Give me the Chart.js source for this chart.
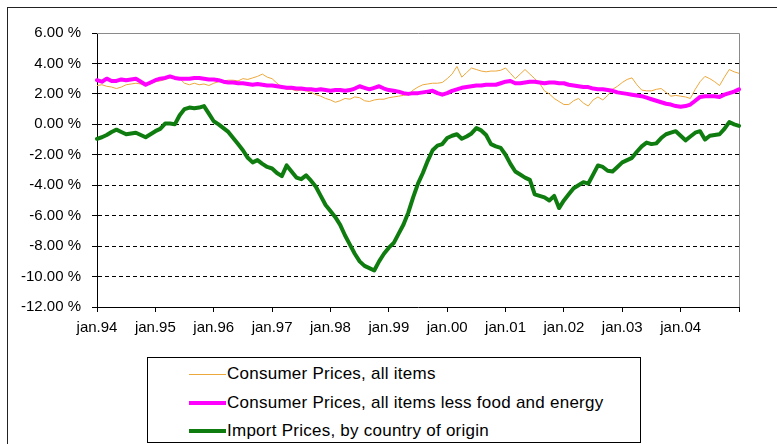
<!DOCTYPE html>
<html>
<head>
<meta charset="utf-8">
<script src="https://cdn.jsdelivr.net/npm/chart.js@4.4.1/dist/chart.umd.min.js"></script>
<style>
  html, body { margin: 0; padding: 0; background: #fff; overflow: hidden; }
  body { width: 777px; height: 444px; position: relative; font-family: "Liberation Sans", Arial, sans-serif; }
  #frame { position: absolute; left: 7px; top: 7px; width: 800px; height: 500px; border: 1px solid #222; }
  #chart { position: absolute; left: 0; top: 0; }
  #legend { position: absolute; left: 147px; top: 357px; width: 492px; height: 84px; border: 1px solid #000; background: #fff; }
  #legend .row { position: absolute; left: 0; height: 20px; margin-top: -10px; }
  #legend .swatch { position: absolute; left: 41px; width: 37px; top: 50%; }
  #legend .txt { position: absolute; left: 79px; top: 0; line-height: 20px; font-size: 17px; letter-spacing: 0.25px; white-space: nowrap; color: #000; }
</style>
</head>
<body>
<div id="frame"></div>
<canvas id="chart" width="777" height="444"></canvas>
<div id="legend"></div>
<script>
// month categories jan.94 .. jan.05
const monthNames = ['jan', 'feb', 'mar', 'apr', 'mai', 'jun', 'jul', 'aug', 'sep', 'okt', 'nov', 'des'];
const years = ['94', '95', '96', '97', '98', '99', '00', '01', '02', '03', '04', '05'];
const months = [];
years.forEach(y => monthNames.forEach(m => { if (months.length < 133) months.push(m + '.' + y); }));

const yearTicks = ['jan.94', 'jan.95', 'jan.96', 'jan.97', 'jan.98', 'jan.99', 'jan.00', 'jan.01', 'jan.02', 'jan.03', 'jan.04'];

// yearly change, %
const cpiAll = [
  2.55, 2.6, 2.5, 2.45, 2.35, 2.45, 2.6, 2.65, 2.7, 2.65, 2.6, 2.65,
  2.8, 2.85, 2.95, 3.05, 3.1, 3.0, 2.7, 2.6, 2.7, 2.6, 2.65, 2.55,
  2.7, 2.8, 2.85, 2.9, 2.9, 2.85, 3.0, 2.95, 3.05, 3.15, 3.3, 3.1,
  3.0, 2.7, 2.45, 2.3, 2.3, 2.2, 2.25, 2.2, 2.1, 1.95, 1.85, 1.7,
  1.6, 1.45, 1.55, 1.7, 1.65, 1.8, 1.75, 1.55, 1.5, 1.6, 1.65, 1.65,
  1.75, 1.8, 1.85, 1.9, 1.95, 2.25, 2.45, 2.6, 2.65, 2.7, 2.7, 2.75,
  3.0, 3.3, 3.8, 3.1, 3.4, 3.7, 3.6, 3.5, 3.45, 3.5, 3.5, 3.55,
  3.7, 3.35, 3.0, 3.3, 3.6, 3.3, 3.0, 2.7, 2.2, 2.0, 1.7, 1.5,
  1.3, 1.3, 1.55, 1.7, 1.4, 1.2, 1.6, 1.8, 1.6, 1.9, 2.3, 2.5,
  2.75, 2.95, 3.05, 2.6, 2.25, 2.2, 2.2, 2.3, 2.35, 2.1, 1.85, 1.9,
  1.85, 1.8, 1.7, 2.3, 2.8, 3.15, 3.0, 2.8, 2.55, 3.1, 3.6, 3.45,
  3.35
];
const cpiCore = [
  2.9, 2.8, 3.0, 2.85, 2.85, 2.95, 2.9, 2.95, 3.0, 2.8, 2.6, 2.75,
  2.9, 3.0, 3.05, 3.15, 3.05, 3.0, 3.0, 3.0, 3.05, 3.05, 3.0, 2.95,
  2.95, 2.9, 2.8, 2.75, 2.75, 2.7, 2.7, 2.65, 2.6, 2.65, 2.6, 2.55,
  2.55, 2.5, 2.45, 2.4, 2.4, 2.35, 2.35, 2.3, 2.3, 2.25, 2.3, 2.25,
  2.2, 2.25, 2.25, 2.2, 2.25, 2.35, 2.5, 2.4, 2.3, 2.4, 2.5, 2.35,
  2.25, 2.2, 2.15, 2.05, 2.0, 2.05, 2.05, 2.1, 2.15, 2.2, 2.05, 1.95,
  2.05, 2.2, 2.3, 2.4, 2.45, 2.5, 2.55, 2.55, 2.6, 2.6, 2.6, 2.7,
  2.8, 2.85, 2.7, 2.7, 2.75, 2.8, 2.8, 2.75, 2.7, 2.75, 2.75, 2.7,
  2.7, 2.6, 2.55, 2.5, 2.45, 2.45, 2.35, 2.3, 2.3, 2.25, 2.2, 2.1,
  2.05, 2.0, 1.95, 1.9, 1.85, 1.75, 1.65, 1.55, 1.45, 1.35, 1.3, 1.2,
  1.15, 1.2, 1.3, 1.55, 1.8, 1.85, 1.85, 1.85, 1.8, 1.95, 2.05, 2.15,
  2.3
];
const importPrices = [
  -0.95, -0.85, -0.7, -0.5, -0.35, -0.5, -0.65, -0.6, -0.55, -0.7, -0.85, -0.65,
  -0.45, -0.3, 0.05, 0.05, 0.0, 0.6, 1.0, 1.1, 1.05, 1.1, 1.2, 0.7,
  0.2, 0.0, -0.25, -0.5, -0.9, -1.3, -1.7, -2.2, -2.5, -2.35, -2.6, -2.8,
  -2.9, -3.2, -3.4, -2.7, -3.1, -3.5, -3.6, -3.35, -3.7, -4.1, -4.7, -5.3,
  -5.7, -6.1, -6.6, -7.3, -7.9, -8.5, -9.0, -9.3, -9.45, -9.6, -9.0, -8.5,
  -8.1, -7.8, -7.2, -6.6, -5.8, -4.8, -3.9, -3.2, -2.4, -1.7, -1.4, -1.3,
  -0.9, -0.75, -0.65, -0.95, -0.8, -0.6, -0.25, -0.4, -0.7, -1.3, -1.45, -1.55,
  -2.0, -2.6, -3.1, -3.3, -3.5, -3.65, -4.6, -4.7, -4.8, -5.0, -4.7, -5.5,
  -5.0, -4.6, -4.2, -4.0, -3.8, -3.9, -3.3, -2.7, -2.8, -3.05, -3.1, -2.8,
  -2.5, -2.35, -2.2, -1.8, -1.45, -1.2, -1.3, -1.25, -0.9, -0.65, -0.55, -0.45,
  -0.75, -1.05, -0.8, -0.55, -0.45, -1.0, -0.75, -0.7, -0.65, -0.3, 0.15, 0.0,
  -0.1
];

Chart.defaults.font.family = '"Liberation Sans", Arial, sans-serif';
Chart.defaults.font.size = 15;
Chart.defaults.color = '#000';

// gray frame on top/right of the plot area
const plotFrame = {
  id: 'plotFrame',
  beforeDatasetsDraw(chart) {
    const { ctx, chartArea: a } = chart;
    ctx.save();
    ctx.strokeStyle = '#8a8a8a';
    ctx.lineWidth = 1;
    ctx.beginPath();
    ctx.moveTo(a.left, Math.round(a.top) + 0.5);
    ctx.lineTo(Math.round(a.right) + 0.5, Math.round(a.top) + 0.5);
    ctx.lineTo(Math.round(a.right) + 0.5, a.bottom);
    ctx.stroke();
    ctx.restore();
  }
};

const chart = new Chart(document.getElementById('chart'), {
  type: 'line',
  data: {
    labels: months,
    datasets: [
      { label: 'Consumer Prices, all items', data: cpiAll, borderColor: '#EDA83C', borderWidth: 1, order: 3 },
      { label: 'Consumer Prices, all items less food and energy', data: cpiCore, borderColor: '#FF00FF', borderWidth: 4, order: 2 },
      { label: 'Import Prices, by country of origin', data: importPrices, borderColor: '#0E7C0E', borderWidth: 4, order: 1 }
    ]
  },
  options: {
    responsive: false,
    animation: false,
    devicePixelRatio: 1,
    layout: { padding: { left: 7, top: 33, right: 38, bottom: 107 } },
    elements: { point: { radius: 0 }, line: { tension: 0, borderJoinStyle: 'round', borderCapStyle: 'round' } },
    plugins: { legend: { display: false }, tooltip: { enabled: false } },
    scales: {
      x: {
        offset: false,
        afterFit: s => { s.height = 30; },
        grid: {
          drawOnChartArea: false,
          tickLength: 5,
          tickColor: c => (c.index % 12 === 0 ? '#000' : 'rgba(0,0,0,0)')
        },
        border: { color: '#000', width: 1 },
        ticks: {
          autoSkip: false,
          maxRotation: 0,
          minRotation: 0,
          padding: 7,
          callback: (v, i) => (i % 12 === 0 && yearTicks[i / 12]) ? yearTicks[i / 12] : ''
        }
      },
      y: {
        min: -12,
        max: 6,
        afterFit: s => { s.width = 90; },
        grid: {
          color: c => (c.tick && c.tick.value > -12 && c.tick.value < 6 ? '#000' : 'rgba(0,0,0,0)'),
          tickColor: '#000',
          tickLength: 5
        },
        border: { color: '#000', width: 1, dash: [4, 3] },
        ticks: {
          stepSize: 2,
          padding: 11,
          callback: v => v.toFixed(2) + ' %'
        }
      }
    }
  },
  plugins: [plotFrame]
});

// legend box
const rowsY = [16, 44.5, 73];
document.getElementById('legend').innerHTML = chart.data.datasets.map((d, i) => `
  <div class="row" style="top:${rowsY[i]}px;width:100%">
    <div class="swatch" style="height:${d.borderWidth}px;margin-top:-${d.borderWidth / 2}px;background:${d.borderColor}"></div>
    <div class="txt">${d.label}</div>
  </div>`).join('');
</script>
</body>
</html>
